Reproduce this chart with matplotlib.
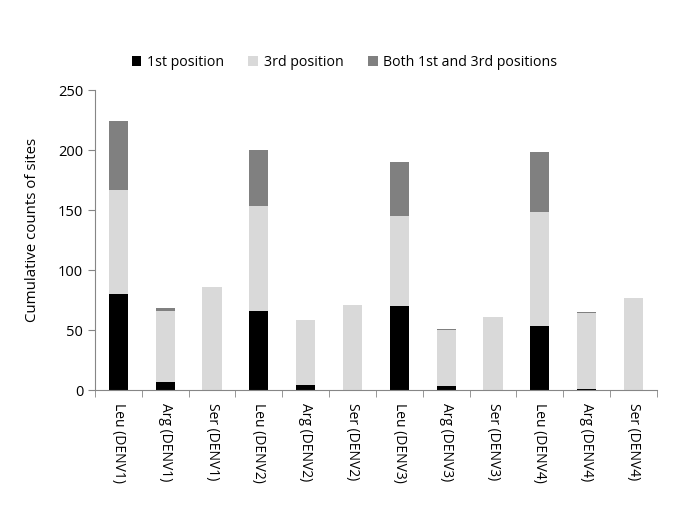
import numpy as np
import matplotlib
matplotlib.use("Agg")
from matplotlib import pyplot as plt

plt.rcParams['font.family'] = ['Open Sans', 'DejaVu Sans']

categories = ["Leu (DENV1)", "Arg (DENV1)", "Ser (DENV1)",
              "Leu (DENV2)", "Arg (DENV2)", "Ser (DENV2)",
              "Leu (DENV3)", "Arg (DENV3)", "Ser (DENV3)",
              "Leu (DENV4)", "Arg (DENV4)", "Ser (DENV4)"]
first_pos = [80, 7, 0, 66, 4, 0, 70, 3, 0, 53, 1, 0]
third_pos = [87, 59, 86, 87, 54, 71, 75, 47, 61, 95, 63, 77]
both_pos = [57, 2, 0, 47, 0, 0, 45, 1, 0, 50, 1, 0]
yticks = [0, 50, 100, 150, 200, 250]

fig = plt.figure(figsize=(6.85, 5.32), dpi=100)
ax = fig.add_axes([0.1387, 0.2669, 0.8203, 0.5639])

x = np.arange(len(categories))
w = 0.41
first = np.array(first_pos)
third = np.array(third_pos)
both = np.array(both_pos)
ax.bar(x, first, w, color="#000000", label="1st position")
ax.bar(x, third, w, bottom=first, color="#d9d9d9", label="3rd position")
ax.bar(x, both, w, bottom=first + third, color="#808080",
       label="Both 1st and 3rd positions")

ax.set_xlim(-0.5, len(categories) - 0.5)
ax.set_ylim(0, 250)
ax.set_yticks(yticks)
ax.set_xticks(x)
ax.set_xticklabels(categories, rotation=270, fontsize=10)
ax.tick_params(axis='x', length=0, pad=9)
ax.set_xticks(np.arange(-0.5, len(categories)), minor=True)
ax.tick_params(axis='x', which='minor', length=5, color="#868686")
ax.tick_params(axis='y', labelsize=10.5, length=5, color="#868686")
for s in ["top", "right"]:
    ax.spines[s].set_visible(False)
for s in ["left", "bottom"]:
    ax.spines[s].set_color("#868686")
ax.set_ylabel("Cumulative counts of sites", fontsize=10.8)
ax.yaxis.set_label_coords(-0.098, 0.533)

ax.legend(loc="lower center", bbox_to_anchor=(0.444, 1.025), ncol=3,
          frameon=False, fontsize=10.2, handlelength=0.7, handleheight=0.7,
          columnspacing=1.7, handletextpad=0.4)

fig.savefig("out.png", dpi=100)
